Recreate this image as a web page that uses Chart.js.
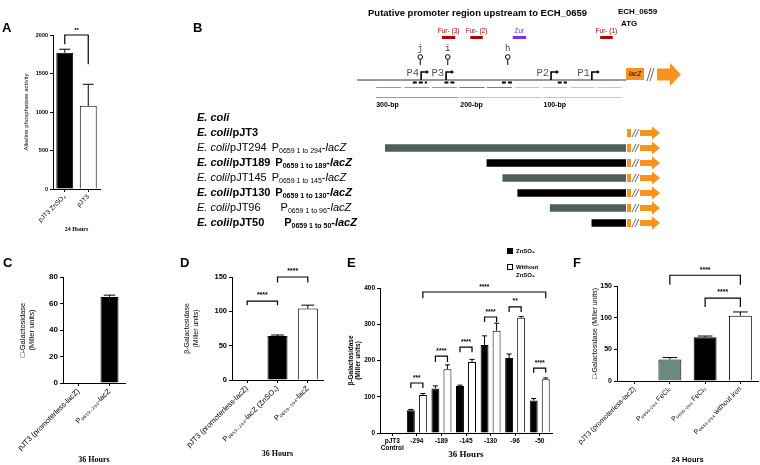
<!DOCTYPE html>
<html>
<head>
<meta charset="utf-8">
<title>ECH_0659 promoter lacZ reporters</title>
<script src="https://cdn.jsdelivr.net/npm/chart.js"></script>
<style>
  body { margin: 0; background: #fff; }
  #fig { position: relative; width: 760px; height: 465px; overflow: hidden; background: #fff; }
  #fig canvas { position: absolute; }
  .tag { position: absolute; font: bold 13px/13px "Liberation Sans", Arial, sans-serif; color: #000; }
</style>
</head>
<body>
<div id="fig">
  <canvas id="chartA" width="130" height="245" style="left:0;top:0"></canvas>
  <canvas id="chartB" width="760" height="245" style="left:0;top:0"></canvas>
  <canvas id="chartC" width="150" height="215" style="left:0;top:250px"></canvas>
  <canvas id="chartD" width="180" height="215" style="left:150px;top:250px"></canvas>
  <canvas id="chartE" width="235" height="220" style="left:330px;top:245px"></canvas>
  <canvas id="chartF" width="200" height="215" style="left:560px;top:250px"></canvas>
  <div class="tag" style="left:2px;top:21px">A</div>
  <div class="tag" style="left:193px;top:21px">B</div>
  <div class="tag" style="left:3px;top:256px">C</div>
  <div class="tag" style="left:180px;top:256px">D</div>
  <div class="tag" style="left:347px;top:256px">E</div>
  <div class="tag" style="left:573px;top:256px">F</div>
</div>

<script>
// ---- A: alkaline phosphatase, 24 h
const aLabels = ['pJT3 ZnSO₄', 'pJT3'];
const aValues = [1770, 1080];
const aErrors = [1815, 1360];
// [dataset, bar, dataset, bar, top, left foot, right foot, text]
const aSig = [[0, 0, 0, 1, 2000, 1880, 1620, '**']];

// ---- B: promoter map (positions in bp upstream of ATG)
const bTitle = 'Putative promoter region upstream to ECH_0659';
const bGene = ['ECH_0659', 'ATG'];
const bStrains = ['', 'pJT3', 'pJT294', 'pJT189', 'pJT145', 'pJT130', 'pJT96', 'pJT50'];
const bFragEnds = [null, null, 294, 189, 145, 130, 96, 50];
const bBarStart = [null, null, -289, -167, -148, -130, -91, -41];
const bPromNames = ['P4', 'P3', 'P2', 'P1'];
const bPromPos = [-246, -216, -90, -41];
const bLoopNames = ['j', 'i', 'h'];
const bLoopPos = [-247, -214, -142];
const bBoxNames = ['Fur- (3)', 'Fur- (2)', 'Zur', 'Fur- (1)'];
const bBoxFrom = [-221, -187, -136, -31];
const bBoxTo = [-205, -172, -120, -16];
const bSiteFrom = [-256, -218, -149, -82];
const bSiteTo = [-239, -205, -136, -71];
const bSegFrom = [-300, -266, -233, -200, -167, -133, -100, -67, -35];
const bSegTo = [-270, -236, -203, -170, -137, -104, -71, -38, -5];
const bScaleFrom = [-300, -199, -99];
const bScaleTo = [-201, -101, -5];
const bScaleNames = ['300-bp', '200-bp', '100-bp'];

// ---- C: 36 h
const cLabels = ['pJT3 (promoterless-lacZ)', 'P₀₆₅₉₋₂₉₄-lacZ'];
const cValues = [0, 65];
const cErrors = [null, 66.3];

// ---- D: 36 h
const dLabels = ['pJT3 (promoterless-lacZ)', 'P₀₆₅₉₋₂₉₄-lacZ (ZnSO₄)', 'P₀₆₅₉₋₂₉₄-lacZ'];
const dValues = [0, 64, 104];
const dErrors = [null, 65.5, 109];
const dSig = [[0, 0, 0, 1, 115, 109, 109, '****'], [0, 1, 0, 2, 150, 142, 142, '****']];

// ---- E: deletion constructs, 36 h
const eLabels = [['pJT3', 'Control'], '-294', '-189', '-145', '-130', '-96', '-50'];
const eZn = [0, 63, 123, 130, 243, 207, 90];
const eZnErr = [null, 65, 130, 132, 268, 218, 95];
const eNoZn = [0, 105, 176, 196, 282, 318, 148];
const eNoZnErr = [null, 109, 188, 203, 303, 321, 152];
const eSig = [
  [1, 1, 1, 6, 389, 372, 372, '****'],
  [0, 1, 1, 1, 138, 124, 124, '***'],
  [0, 2, 1, 2, 212, 196, 196, '****'],
  [0, 3, 1, 3, 237, 223, 223, '****'],
  [0, 4, 1, 4, 320, 306, 306, '****'],
  [0, 5, 1, 5, 348, 334, 334, '**'],
  [0, 6, 1, 6, 179, 166, 166, '****']
];

// ---- F: iron, 24 h
const fLabels = ['pJT3 (promoterless-lacZ)', 'P₀₆₅₉₋₂₉₄ FeCl₂', 'P₀₆₅₉₋₂₉₄ FeCl₃', 'P₀₆₅₉₋₂₉₄ without iron'];
const fValues = [0, 34, 69, 103];
const fErrors = [null, 37, 71, 109];
const fSig = [[0, 1, 0, 3, 167, 152, 152, '****'], [0, 2, 0, 3, 131, 117, 117, '****']];

const SANS = '"Liberation Sans", Arial, sans-serif';
const SERIF = '"Liberation Serif", "Times New Roman", serif';
const MONO = '"Liberation Mono", "DejaVu Sans Mono", monospace';
const ORANGE = '#f7931e';

// upper error whiskers
const errBars = {
  id: 'errBars',
  afterDatasetsDraw(chart, args, opts) {
    const ctx = chart.ctx, y = chart.scales.y;
    ctx.save();
    ctx.strokeStyle = '#000';
    ctx.lineWidth = 1;
    (opts.sets || []).forEach((errs, di) => {
      chart.getDatasetMeta(di).data.forEach((bar, i) => {
        if (errs[i] == null) return;
        const top = y.getPixelForValue(errs[i]);
        const w = bar.width * 0.32;
        ctx.beginPath();
        ctx.moveTo(bar.x, bar.y);
        ctx.lineTo(bar.x, top);
        ctx.moveTo(bar.x - w, top);
        ctx.lineTo(bar.x + w, top);
        ctx.stroke();
      });
    });
    ctx.restore();
  }
};

// significance brackets
const sigBrackets = {
  id: 'sigBrackets',
  afterDatasetsDraw(chart, args, opts) {
    const ctx = chart.ctx, y = chart.scales.y;
    ctx.save();
    ctx.strokeStyle = '#000';
    ctx.fillStyle = '#000';
    ctx.lineWidth = 1.2;
    ctx.font = opts.font || ('bold 7px ' + SANS);
    ctx.textAlign = 'center';
    ctx.textBaseline = 'bottom';
    (opts.items || []).forEach(b => {
      const xa = chart.getDatasetMeta(b[0]).data[b[1]].x;
      const xb = chart.getDatasetMeta(b[2]).data[b[3]].x;
      const yt = y.getPixelForValue(b[4]);
      ctx.beginPath();
      ctx.moveTo(xa, y.getPixelForValue(b[5]));
      ctx.lineTo(xa, yt);
      ctx.lineTo(xb, yt);
      ctx.lineTo(xb, y.getPixelForValue(b[6]));
      ctx.stroke();
      ctx.fillText(b[7], (xa + xb) / 2, yt - 2);
    });
    ctx.restore();
  }
};

// small legend for E
const swatchLegend = {
  id: 'swatchLegend',
  afterDraw(chart, args, opts) {
    if (!opts.show) return;
    const ctx = chart.ctx;
    ctx.save();
    ctx.font = 'bold 6px ' + SANS;
    ctx.textBaseline = 'middle';
    chart.data.datasets.forEach((ds, i) => {
      const x = opts.x, y = opts.y + i * opts.gap;
      ctx.fillStyle = ds.backgroundColor;
      ctx.fillRect(x, y - 3, 6, 6);
      ctx.strokeStyle = '#000';
      ctx.lineWidth = 1;
      ctx.strokeRect(x + 0.5, y - 2.5, 5, 5);
      ctx.fillStyle = '#000';
      ds.label.split('\n').forEach((t, k) => ctx.fillText(t, x + 9, y + k * 8));
    });
    ctx.restore();
  }
};

function makePanel(id, o) {
  const a = o.area;
  return new Chart(document.getElementById(id), {
    type: 'bar',
    data: { labels: o.labels, datasets: o.datasets },
    options: {
      responsive: false,
      animation: false,
      events: [],
      layout: { autoPadding: false, padding: { left: 0, top: a[1], right: o.w - a[2], bottom: 0 } },
      plugins: {
        legend: { display: false },
        tooltip: { enabled: false },
        errBars: { sets: o.errs },
        sigBrackets: { items: o.sig || [], font: o.sigFont },
        swatchLegend: o.legend || { show: false }
      },
      scales: {
        x: {
          grid: { display: true, drawOnChartArea: false, offset: false, tickLength: 3, color: '#000' },
          border: { color: '#000', width: 1 },
          ticks: { font: o.xFont, color: '#000', minRotation: o.rot, maxRotation: o.rot, autoSkip: false, padding: 1 },
          title: { display: true, text: o.xTitle, font: o.xTitleFont, color: '#000', padding: { top: 0, bottom: o.xTitlePad } },
          afterFit: s => { s.height = o.h - a[3]; }
        },
        y: {
          min: 0,
          max: o.max,
          ticks: { stepSize: o.step, font: o.yFont, color: '#000', padding: 2, callback: v => String(v) },
          grid: { drawOnChartArea: false, tickLength: 3, color: '#000' },
          border: { color: '#000', width: 1 },
          title: { display: true, text: o.yTitle, font: o.yTitleFont, color: '#000', padding: { top: o.yTitlePad, bottom: 0 } },
          afterFit: s => { s.width = a[0]; }
        }
      }
    },
    plugins: [errBars, sigBrackets, swatchLegend]
  });
}

function oneSet(values, colors, pct) {
  return [{ data: values, backgroundColor: colors, borderColor: '#000', borderWidth: 1,
            barPercentage: pct, categoryPercentage: 1 }];
}

// A
makePanel('chartA', {
  w: 130, h: 245, area: [53, 35, 100, 189], max: 2000, step: 500, rot: 45,
  labels: aLabels,
  datasets: oneSet(aValues, ['#000', '#fff'], 0.72),
  errs: [aErrors], sig: aSig, sigFont: 'bold 6px ' + SANS,
  xFont: { size: 6.5, family: SANS }, yFont: { size: 5.5, weight: 'bold', family: SANS },
  yTitle: 'Alkaline phosphatase activity', yTitleFont: { size: 6, family: SANS }, yTitlePad: 23,
  xTitle: '24 Hours', xTitleFont: { size: 6, weight: 'bold', family: SERIF }, xTitlePad: 12
});

// C
makePanel('chartC', {
  w: 150, h: 215, area: [63, 27, 125, 133], max: 80, step: 20, rot: 45,
  labels: cLabels,
  datasets: oneSet(cValues, ['#000', '#000'], 0.58),
  errs: [cErrors],
  xFont: { size: 7.5, family: SANS }, yFont: { size: 8, weight: 'bold', family: SANS },
  yTitle: ['□-Galactosidase', '(Miller units)'], yTitleFont: { size: 7.5, family: SANS }, yTitlePad: 18,
  xTitle: '36 Hours', xTitleFont: { size: 8, weight: 'bold', family: SERIF }, xTitlePad: 0
});

// D
makePanel('chartD', {
  w: 180, h: 215, area: [82, 27, 173, 130], max: 150, step: 50, rot: 45,
  labels: dLabels,
  datasets: oneSet(dValues, ['#000', '#000', '#fff'], 0.66),
  errs: [dErrors], sig: dSig,
  xFont: { size: 7.5, family: SANS }, yFont: { size: 7.5, weight: 'bold', family: SANS },
  yTitle: ['β-Galactosidase', '(Miller units)'], yTitleFont: { size: 7, family: SANS }, yTitlePad: 33,
  xTitle: '36 Hours', xTitleFont: { size: 8, weight: 'bold', family: SERIF }, xTitlePad: 6
});

// E
makePanel('chartE', {
  w: 235, h: 220, area: [50, 43, 222, 188], max: 400, step: 100, rot: 0,
  labels: eLabels,
  datasets: [
    { label: 'ZnSO₄', data: eZn, backgroundColor: '#000', borderColor: '#000', borderWidth: 1,
      barPercentage: 0.66, categoryPercentage: 0.98 },
    { label: 'Without\nZnSO₄', data: eNoZn, backgroundColor: '#fff', borderColor: '#000', borderWidth: 1,
      barPercentage: 0.66, categoryPercentage: 0.98 }
  ],
  errs: [eZnErr, eNoZnErr], sig: eSig, sigFont: 'bold 6.5px ' + SANS,
  legend: { show: true, x: 177, y: 6, gap: 16 },
  xFont: { size: 6.5, weight: 'bold', family: SANS }, yFont: { size: 6.5, weight: 'bold', family: SANS },
  yTitle: ['β-Galactosidase', '(Miller units)'], yTitleFont: { size: 6.5, weight: 'bold', family: SANS }, yTitlePad: 17,
  xTitle: '36 Hours', xTitleFont: { size: 9, weight: 'bold', family: SERIF }, xTitlePad: 5
});

// F
makePanel('chartF', {
  w: 200, h: 215, area: [57, 36, 198, 131], max: 150, step: 50, rot: 45,
  labels: fLabels,
  datasets: oneSet(fValues, ['#000', '#6b8a7e', '#000', '#fff'], 0.65),
  errs: [fErrors], sig: fSig,
  xFont: { size: 7, family: SANS }, yFont: { size: 7, weight: 'bold', family: SANS },
  yTitle: '□-Galactosidase (Miller units)', yTitleFont: { size: 7, family: SANS }, yTitlePad: 31,
  xTitle: '24 Hours', xTitleFont: { size: 7.5, weight: 'bold', family: SANS }, xTitlePad: 1
});

// B: construct map drawn on a floating horizontal bar chart (x in bp)
function richText(ctx, x, y, parts) {
  parts.forEach(p => {
    ctx.font = p[1];
    ctx.fillText(p[0], x, y + (p[2] || 0));
    x += ctx.measureText(p[0]).width;
  });
  return x;
}

function orangeArrow(ctx, x, y, bodyH, headH, bodyW, headW) {
  ctx.fillStyle = ORANGE;
  ctx.fillRect(x, y - bodyH / 2, bodyW, bodyH);
  ctx.beginPath();
  ctx.moveTo(x + bodyW, y - headH / 2);
  ctx.lineTo(x + bodyW + headW, y);
  ctx.lineTo(x + bodyW, y + headH / 2);
  ctx.closePath();
  ctx.fill();
}

function slashes(ctx, x, yTop, yBot) {
  ctx.strokeStyle = '#666';
  ctx.lineWidth = 1;
  ctx.beginPath();
  ctx.moveTo(x, yBot); ctx.lineTo(x + 4, yTop);
  ctx.moveTo(x + 3, yBot); ctx.lineTo(x + 7, yTop);
  ctx.stroke();
}

const promoterMap = {
  id: 'promoterMap',
  afterDatasetsDraw(chart) {
    const ctx = chart.ctx;
    const sx = chart.scales.x, sy = chart.scales.y;
    const X = v => sx.getPixelForValue(v);
    const x0 = X(0);
    const lineY = 80;
    ctx.save();
    ctx.textBaseline = 'middle';
    ctx.fillStyle = '#000';

    ctx.font = 'bold 9.5px ' + SANS;
    ctx.fillText(bTitle, 368, 13);
    ctx.font = 'bold 8px ' + SANS;
    ctx.fillText(bGene[0], 618, 12);
    ctx.fillText(bGene[1], 621, 24);

    // Fur / Zur boxes
    bBoxNames.forEach((n, i) => {
      const col = n.startsWith('Zur') ? '#7b35e8' : '#b00000';
      const xa = X(bBoxFrom[i]), xb = X(bBoxTo[i]);
      ctx.fillStyle = col;
      ctx.fillRect(xa, 36, xb - xa, 3);
      ctx.font = '6.5px ' + SANS;
      ctx.textAlign = 'center';
      ctx.fillText(n, (xa + xb) / 2, 31);
    });

    // hairpins
    ctx.strokeStyle = '#000';
    ctx.lineWidth = 1;
    bLoopNames.forEach((n, i) => {
      const x = X(bLoopPos[i]);
      ctx.fillStyle = '#444';
      ctx.font = '9px ' + MONO;
      ctx.fillText(n, x, 49);
      ctx.beginPath();
      ctx.arc(x, 57, 2.3, 0, Math.PI * 2);
      ctx.moveTo(x, 59.3);
      ctx.lineTo(x, 65);
      ctx.stroke();
    });

    // main line
    ctx.strokeStyle = '#333';
    ctx.beginPath();
    ctx.moveTo(chart.chartArea.left, lineY);
    ctx.lineTo(x0, lineY);
    ctx.stroke();

    // promoters
    bPromNames.forEach((n, i) => {
      const x = X(bPromPos[i]);
      ctx.strokeStyle = '#000';
      ctx.lineWidth = 1.6;
      ctx.beginPath();
      ctx.moveTo(x, lineY);
      ctx.lineTo(x, 72);
      ctx.lineTo(x + 5, 72);
      ctx.stroke();
      ctx.fillStyle = '#000';
      ctx.beginPath();
      ctx.moveTo(x + 5, 70);
      ctx.lineTo(x + 8, 72);
      ctx.lineTo(x + 5, 74);
      ctx.fill();
      ctx.fillStyle = '#555';
      ctx.font = '10.5px ' + MONO;
      ctx.textAlign = 'right';
      ctx.fillText(n, x - 2, 73);
    });

    // binding sites under the line
    ctx.strokeStyle = '#000';
    ctx.lineWidth = 2;
    ctx.setLineDash([4, 2]);
    bSiteFrom.forEach((f, i) => {
      ctx.beginPath();
      ctx.moveTo(X(f), 82.5);
      ctx.lineTo(X(bSiteTo[i]), 82.5);
      ctx.stroke();
    });
    ctx.setLineDash([]);

    // 30-bp blocks
    const segCol = ['#9a9a9a', '#9a9a9a', '#9a9a9a', '#777', '#5b7fd0', '#9de39a', '#9de39a', '#9de39a', '#9de39a'];
    ctx.lineWidth = 1;
    bSegFrom.forEach((f, i) => {
      ctx.strokeStyle = segCol[i];
      ctx.beginPath();
      ctx.moveTo(X(f), 87.5);
      ctx.lineTo(X(bSegTo[i]), 87.5);
      ctx.stroke();
    });

    // scale
    const scaleCol = ['#9a9a9a', '#9de39a', '#9de39a'];
    bScaleFrom.forEach((f, i) => {
      ctx.strokeStyle = scaleCol[i];
      ctx.beginPath();
      ctx.moveTo(X(f), 97.5);
      ctx.lineTo(X(bScaleTo[i]), 97.5);
      ctx.stroke();
      ctx.fillStyle = '#000';
      ctx.font = 'bold 7px ' + SANS;
      ctx.textAlign = 'left';
      ctx.fillText(bScaleNames[i], X(f), 105);
    });

    // lacZ and gene arrow
    ctx.fillStyle = ORANGE;
    ctx.fillRect(x0, 68, 18, 12);
    ctx.fillStyle = '#000';
    ctx.font = 'italic 6.5px ' + SANS;
    ctx.textAlign = 'center';
    ctx.fillText('lacZ', x0 + 9, 74);
    slashes(ctx, x0 + 21, 68, 81);
    orangeArrow(ctx, x0 + 31, 74.5, 12, 23, 13, 11);

    // construct rows
    ctx.textAlign = 'left';
    bStrains.forEach((s, i) => {
      const y = sy.getPixelForValue(i);
      const w = (i < 2 || i % 2 === 1) ? 'bold ' : '';
      const parts = [['E. coli', 'italic ' + w + '11px ' + SANS]];
      if (s) parts.push(['/' + s, w + '11px ' + SANS]);
      ctx.fillStyle = '#000';
      const end = richText(ctx, 197, y, parts);
      if (bFragEnds[i] != null) {
        const px = end + (bFragEnds[i] < 100 ? 20 : 5);
        richText(ctx, px, y, [
          ['P', w + '11px ' + SANS],
          ['0659 1 to ' + bFragEnds[i], w + '7px ' + SANS, 3],
          ['-', w + '11px ' + SANS],
          ['lacZ', 'italic ' + w + '11px ' + SANS]
        ]);
      }
      if (i >= 1) {
        ctx.fillStyle = ORANGE;
        ctx.fillRect(x0 + 1, y - 4, 4, 8);
        slashes(ctx, x0 + 6, y - 4, y + 4);
        orangeArrow(ctx, x0 + 14, y, 6, 13, 12, 8);
      }
    });
    ctx.restore();
  }
};

new Chart(document.getElementById('chartB'), {
  type: 'bar',
  data: {
    labels: bStrains.map(s => s || 'E. coli'),
    datasets: [{
      data: bBarStart.map(v => v == null ? null : [v, 0]),
      backgroundColor: bStrains.map((s, i) => (i % 2 === 1) ? '#000' : '#4d605c'),
      borderWidth: 0,
      barThickness: 7
    }]
  },
  options: {
    indexAxis: 'y',
    responsive: false,
    animation: false,
    events: [],
    layout: { autoPadding: false, padding: { left: 357, right: 134, top: 110.5, bottom: 14.5 } },
    plugins: { legend: { display: false }, tooltip: { enabled: false } },
    scales: {
      x: { type: 'linear', min: -323, max: 0, display: false },
      y: { display: false }
    }
  },
  plugins: [promoterMap]
});
</script>
</body>
</html>
